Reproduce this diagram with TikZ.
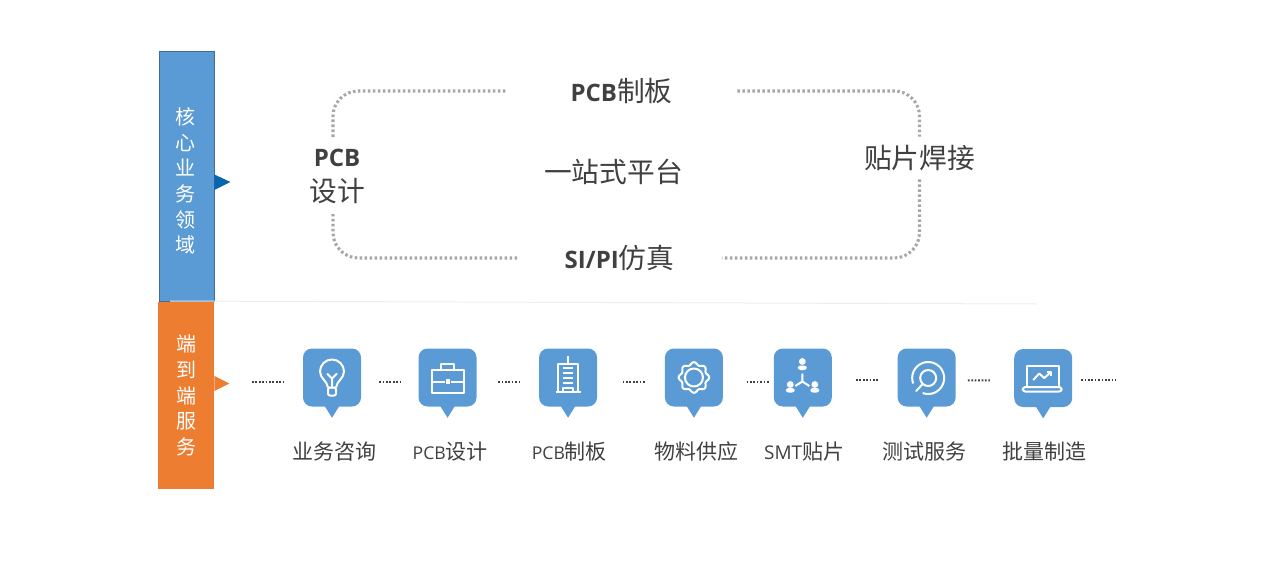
\documentclass[tikz,border=0pt]{standalone}
\usepackage{fontspec}
\setmainfont{Noto Sans CJK SC}
\newfontfamily\latfont{Open Sans}
\usetikzlibrary{positioning, calc}

\definecolor{bubbleblue}{HTML}{5B9BD5}
\definecolor{sideorange}{HTML}{ED7D31}
\definecolor{tipblue}{HTML}{0565AE}
\definecolor{darktext}{HTML}{404040}
\newcommand{\lat}[2]{{\latfont\fontsize{#1}{#1}\selectfont #2}}

\begin{document}
\begin{tikzpicture}[
  x=0.75pt, y=-0.75pt,
  sidebox/.style={minimum width=41.25pt, inner sep=0pt, text=white, align=center, font=\fontsize{15}{19.2}\selectfont},
  bubble/.style={fill=bubbleblue, rounded corners=6.75pt, minimum size=43.5pt, inner sep=0pt},
  steplabel/.style={below=27pt of #1, inner sep=0pt, text height=12pt, text depth=4pt, text=darktext, font=\fontsize{15.75}{19}\selectfont},
  title/.style={inner sep=0pt, text=darktext, align=center, font=\fontsize{20.8}{26}\selectfont},
  loopline/.style={draw=black!35, line width=2.3pt, dash pattern=on 1.9pt off 1.85pt, rounded corners=19pt},
  linkdots/.style={draw=darktext, line width=1.5pt, dash pattern=on 1.3pt off 1.25pt},
  iconline/.style={draw=white, line width=1.5pt, line join=round}
]
  \useasboundingbox (0,0) rectangle (1280,567);

  % left column
  \node[sidebox, fill=bubbleblue, draw=bubbleblue!70!black, line width=0.6pt, minimum height=187.5pt] (core) at (186.5,176) {};
  \node[sidebox] (coretext) at (185.5,181) {核\\心\\业\\务\\领\\域};
  \node[sidebox, fill=sideorange, minimum width=42pt, minimum height=140.25pt] (service) at (186,395.5) {端\\到\\端\\服\\务};
  \fill[tipblue] ($(core.east)+(0,-1.5)$) -- ++(16,7.5) -- ++(-16,8) -- cycle;
  \fill[sideorange] ($(service.east)+(0,-19.5)$) -- ++(15,7.5) -- ++(-15,7.5) -- cycle;

  \coordinate (ruleleft) at (170,301);
  \coordinate (ruleright) at (1037,304);
  \draw[black!7, line width=0.75pt] (ruleleft) -- (ruleright);

  % platform loop
  \node[title, minimum width=173.25pt] (board) at (621.5,91) {\lat{18}{\bfseries PCB}制板};
  \node[title, minimum width=153pt] (sipi) at (619.5,258) {\lat{18}{\bfseries SI/PI}仿真};
  \node[title] (design) at (337,176.5) {\lat{18}{\bfseries PCB}\\设计};
  \node[title, minimum height=31.5pt] (solder) at (919.5,158) {贴片焊接};
  \node[title] (platform) at (613.5,172) {一站式平台};
  \coordinate (designtop) at (333,137);
  \coordinate (designbot) at (333,214);

  \draw[loopline] (designtop) |- (board.west);
  \draw[loopline] (board.east) -| (solder.north);
  \draw[loopline] (solder.south) |- (sipi.east);
  \draw[loopline] (sipi.west) -| (designbot);

  % service chain
  \node[bubble] (b1) at (332,377.5) {};
  \node[bubble, right=42.75pt of b1] (b2) {};
  \node[bubble, right=46.5pt of b2] (b3) {};
  \node[bubble, right=50.5pt of b3] (b4) {};
  \node[bubble, right=37.75pt of b4] (b5) {};
  \node[bubble, right=49pt of b5] (b6) {};
  \node[bubble, right=43.5pt of b6, yshift=-0.4pt] (b7) {};
  \foreach \n in {b1,b2,b3,b4,b5,b6,b7}
    \fill[bubbleblue] ($(\n.south)+(-7.5,-1)$) -- ++(15,0) -- ++(-7.5,12) -- cycle;

  \node[steplabel=b1, xshift=2.2pt] (l1) {业务咨询};
  \node[steplabel=b2, xshift=2pt] (l2) {\lat{13.2}{PCB}设计};
  \node[steplabel=b3, xshift=1pt] (l3) {\lat{13.2}{PCB}制板};
  \node[steplabel=b4, xshift=2pt] (l4) {物料供应};
  \node[steplabel=b5, xshift=1pt] (l5) {\lat{14.2}{SMT}贴片};
  \node[steplabel=b6, xshift=-2pt] (l6) {测试服务};
  \node[steplabel=b7, yshift=0.4pt, xshift=0.75pt] (l7) {批量制造};

  \coordinate (chainstart) at (252,381.5);
  \coordinate (chainend) at (1116,380);
  \draw[linkdots, shorten >=12.75pt] (chainstart) -- (chainstart -| b1.west);
  \draw[linkdots, shorten <=13.5pt, shorten >=12.75pt, transform canvas={yshift=-3pt}] (b1) -- (b2);
  \draw[linkdots, shorten <=16pt, shorten >=14pt, transform canvas={yshift=-3pt}] (b2) -- (b3);
  \draw[linkdots, shorten <=19pt, shorten >=15pt, transform canvas={yshift=-3pt}] (b3) -- (b4);
  \draw[linkdots, shorten <=17.5pt, shorten >=3.5pt, transform canvas={yshift=-3pt}] (b4) -- (b5);
  \draw[linkdots, shorten <=18pt, shorten >=14.5pt, transform canvas={yshift=-2pt}] (b5) -- (b6);
  \draw[linkdots, shorten <=9pt, shorten >=18pt, transform canvas={yshift=-2pt}] (b6) -- (b7);
  \draw[linkdots, shorten <=6.5pt] (b7.east |- chainend) -- (chainend);

  % icons
  \begin{scope}[shift={(b1)}, iconline]
    \draw (-4,10) .. controls (-5,3) and (-12,1) .. (-12,-6) arc[start angle=180, end angle=360, radius=12] .. controls (12,1) and (5,3) .. (4,10);
    \draw (-5,-4) -- (0,1) -- (5,-4) (0,1) -- (0,11);
    \draw[rounded corners=1.5pt] (-4,10) rectangle (4,18);
  \end{scope}
  \begin{scope}[shift={(b2)}, iconline]
    \draw (-16,-8) rectangle (16,15);
    \draw (-6.5,-8) -- (-6.5,-14) -- (6.5,-14) -- (6.5,-8);
    \draw (-16,4) -- (-3,4) (3,4) -- (16,4);
    \fill[white] (-2,1.5) rectangle (2,6.5);
  \end{scope}
  \begin{scope}[shift={(b3)}, iconline]
    \draw (-10,13) -- (-10,-14) -- (10,-14) -- (10,13);
    \draw (0,-14) -- (0,-22);
    \draw (-12.5,14) -- (12.5,14);
    \foreach \y in {-10,-5,0,5}
      \draw (-5,\y) -- (5,\y);
    \draw (-5,13) -- (-5,10) -- (5,10) -- (5,13);
  \end{scope}
  \begin{scope}[shift={(b4)}, iconline]
    \draw plot[domain=0:360, samples=97, smooth] (\x:{14+1.3*cos(8*\x)}) -- cycle;
    \draw (0,0) circle[radius=9];
  \end{scope}
  \begin{scope}[shift={(b5)}]
    \fill[white] (-0.5,-16) circle[radius=3.4] (-12.5,7) circle[radius=3.4] (12,7) circle[radius=3.4];
    \foreach \px/\py in {-0.5/-7.5, -12.5/15, 12/15}
      \fill[white, rounded corners=2pt] (\px-4.5,\py) rectangle (\px+4.5,\py-4.5);
    \draw[iconline] (-0.5,-4) -- (-0.5,4) -- (-7.5,8.5) (-0.5,4) -- (6.5,8.5);
  \end{scope}
  \begin{scope}[shift={(b6)}, iconline]
    \draw ($(1.5,0.5)+(160:16)$) arc[start angle=160, end angle=470, radius=16];
    \draw (1.5,0.5) circle[radius=8];
    \draw[line cap=round] (-4,6.5) -- (-10.5,13.5);
  \end{scope}
  \begin{scope}[shift={(b7)}, iconline]
    \draw (-16.5,9) -- (-16.5,-12.5) -- (15.5,-12.5) -- (15.5,9);
    \draw[rounded corners=2pt] (-20.5,9) -- (18.5,9) -- (18.5,13.5) -- (-20.5,13.5) -- cycle;
    \draw (-10,2) -- (-4,-4.5) -- (1,0) -- (7.5,-5.8);
    \draw (3.5,-6.5) -- (8,-6.5) -- (8,-2);
  \end{scope}
\end{tikzpicture}
\end{document}
